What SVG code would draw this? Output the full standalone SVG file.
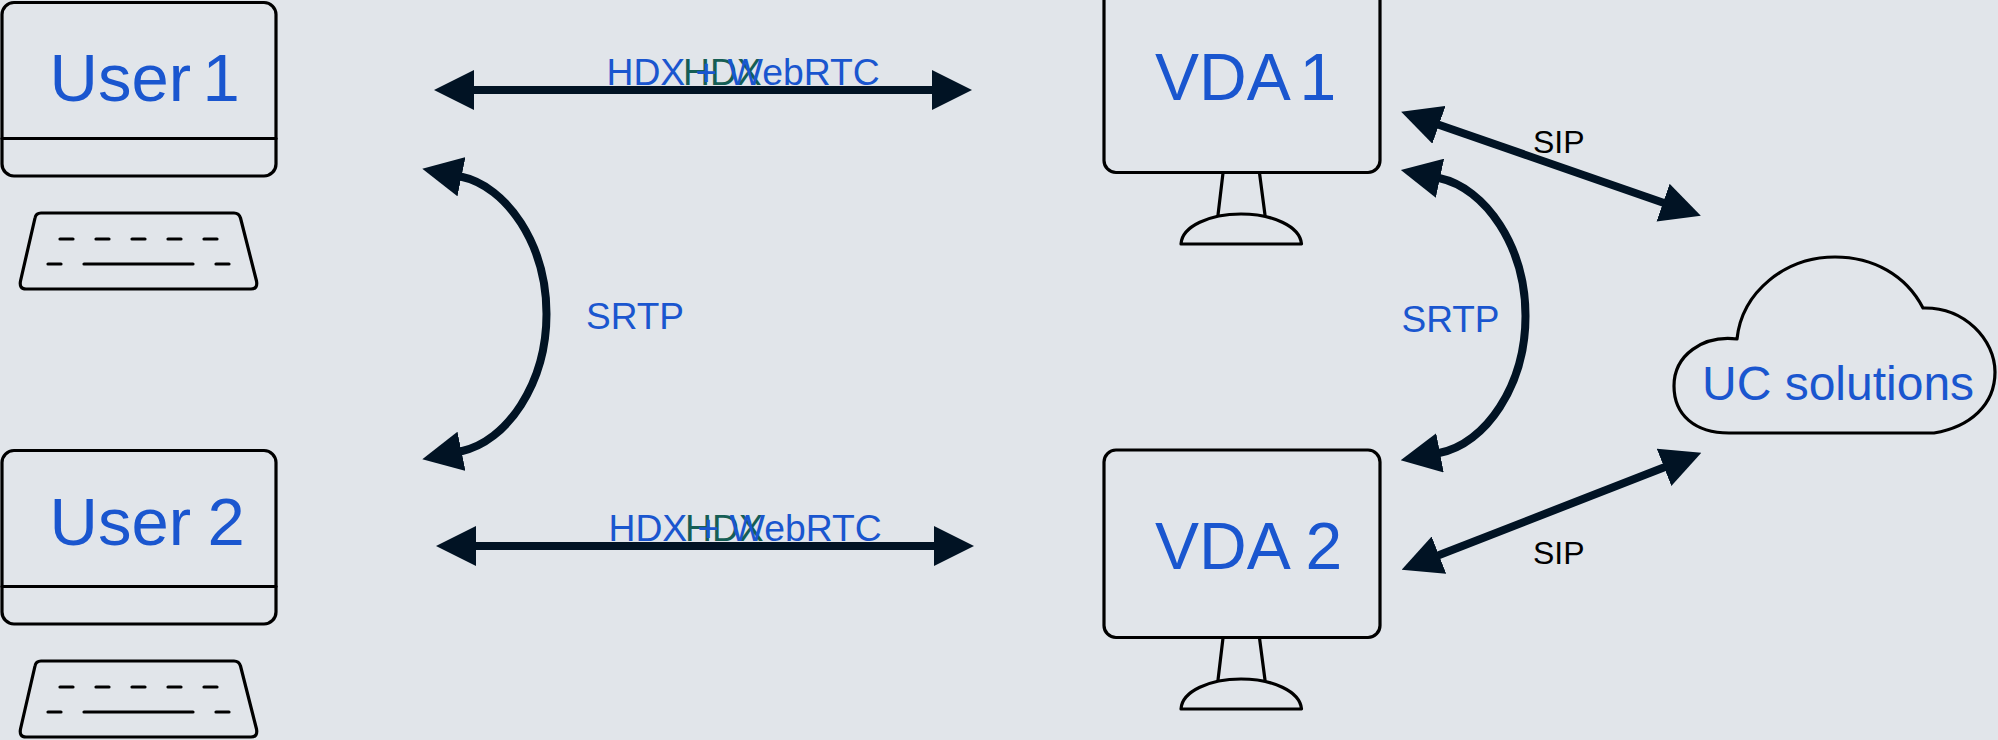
<svg xmlns="http://www.w3.org/2000/svg" width="1998" height="740" viewBox="0 0 1998 740">
<style>
.o{fill:none;stroke:#000;stroke-width:3.200;stroke-linejoin:round;stroke-linecap:round}
.c{fill:none;stroke:#011324;stroke-width:8;marker-start:url(#h);marker-end:url(#h)}
text{font-family:"Liberation Sans",Arial,sans-serif;fill:#1a56cf}
.big{font-size:67px}.vda{font-size:66px}.mid{font-size:37.300px}.srtp{font-size:37px}.sip{font-size:32px;fill:#000}.green{fill:#155e55}
</style>
<defs>
<marker id="h" markerUnits="userSpaceOnUse" markerWidth="40" markerHeight="40" viewBox="0 0 40 40" refX="1" refY="20" orient="auto-start-reverse"><path d="M0 0L40 20L0 40Z" fill="#011324"/></marker>
<g id="pc">
<rect class="o" x="2" y="2.500" width="274" height="173.500" rx="12"/>
<path class="o" d="M2 138.500H276"/>
<path class="o" d="M41 213H234Q239 213 240.500 218L256.500 281Q258 289 251 289H26Q19 289 20.500 281L35 218Q36 213 41 213Z"/>
<path class="o" d="M60 239H73M96 239H109M132 239H145M168 239H181M204 239H217M48 264H61M84 264H193M216 264H229"/>
</g>
<g id="st">
<path class="o" d="M1223 173L1218 215M1259.500 173L1265 215"/>
<path class="o" d="M1181 244C1182 226 1210 214 1241 214C1272 214 1300 226 1301.500 244Z"/>
</g>
</defs>
<rect width="1998" height="740" fill="#e1e5ea"/>
<g id="connectors">
<path class="c" d="M473 90H933"/>
<path class="c" d="M475 546H935"/>
<path class="c" d="M460.500 176.500C507 186 546.500 245 546.500 314C546.500 383 507 442 460.500 451.500"/>
<path class="c" d="M1439 178C1486 188 1525.500 247 1525.500 316C1525.500 385 1486 444 1439 453"/>
<path class="c" d="M1438 124.500L1664 203"/>
<path class="c" d="M1438 555.500L1665 467"/>
</g>
<g id="user1"><use href="#pc"/><text class="big" x="49.500" y="100.500" word-spacing="-7">User 1</text></g>
<g id="user2"><use href="#pc" y="448"/><text class="big" x="49.500" y="545" word-spacing="-2">User 2</text></g>
<g id="vda1"><rect class="o" x="1104" y="-15" width="276" height="187.500" rx="12"/><use href="#st"/><text class="vda" x="1155" y="100" word-spacing="-6">VDA 1</text></g>
<g id="vda2"><rect class="o" x="1104" y="450" width="276" height="187.500" rx="12"/><use href="#st" y="465"/><text class="vda" x="1155" y="569">VDA 2</text></g>
<g id="uc"><path class="o" d="M1737 339C1742 292 1785 257 1835 257C1873 257 1906 275 1923 308C1965 307 1995 340 1995 372C1995 405 1970 427 1934 433H1729C1695 433 1674 415 1674 386C1674 355 1703 335 1737 339Z"/><text x="1702" y="400" font-size="48">UC solutions</text></g>
<g id="labels">
<text class="mid green" x="683" y="85">HDX</text>
<text class="mid" x="606.500" y="85">HDX + WebRTC</text>
<text class="mid green" x="685" y="541">HDX</text>
<text class="mid" x="608.500" y="541">HDX + WebRTC</text>
<text class="srtp" x="586" y="329">SRTP</text>
<text class="srtp" x="1401.500" y="332">SRTP</text>
<text class="sip" x="1533" y="153">SIP</text>
<text class="sip" x="1533" y="564">SIP</text>
</g>
</svg>
